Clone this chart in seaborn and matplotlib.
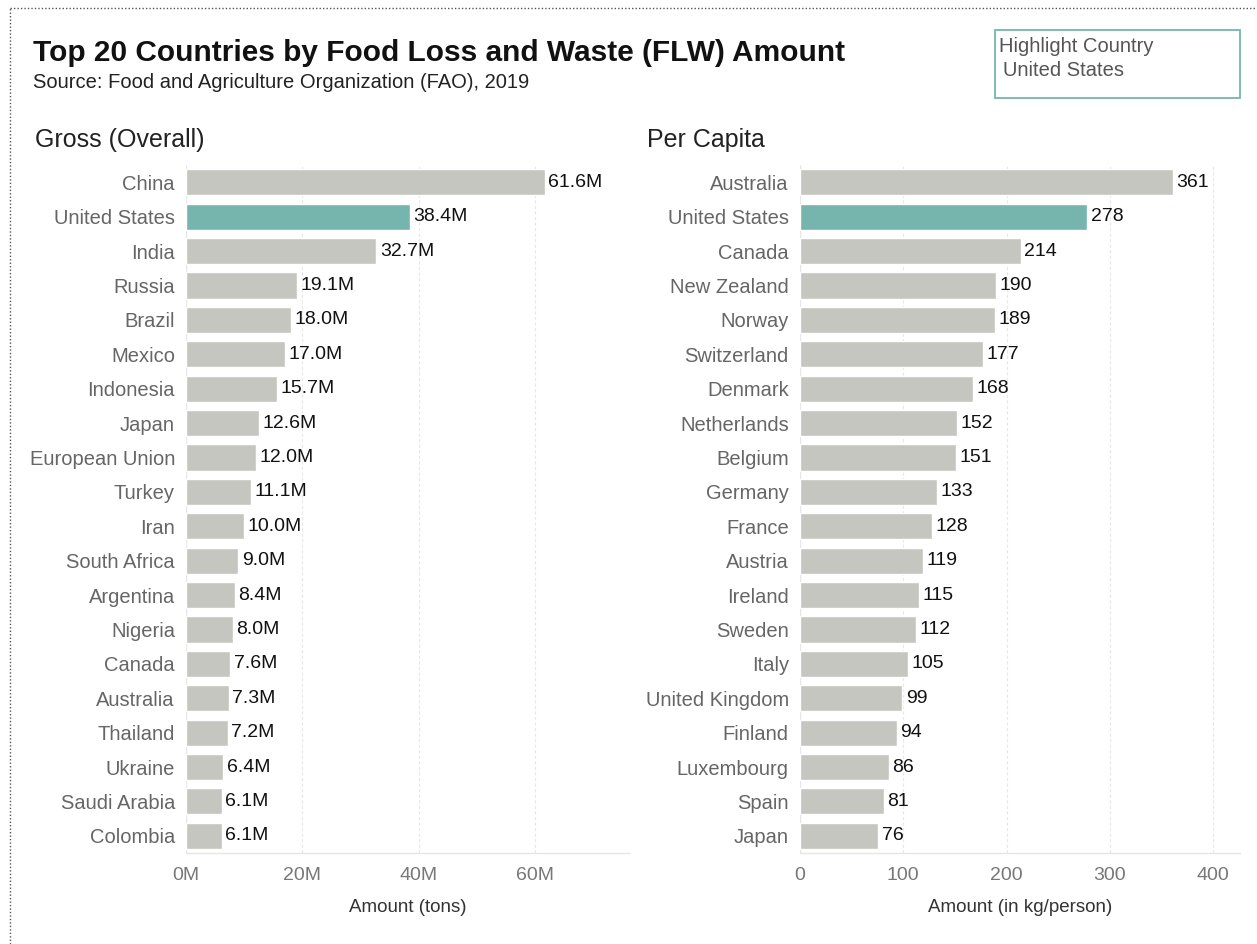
import matplotlib
matplotlib.use("Agg")
import matplotlib.pyplot as plt
from matplotlib.lines import Line2D
from matplotlib.patches import Rectangle
import seaborn as sns
import pandas as pd

gross_countries = ["China", "United States", "India", "Russia", "Brazil", "Mexico",
                   "Indonesia", "Japan", "European Union", "Turkey", "Iran", "South Africa",
                   "Argentina", "Nigeria", "Canada", "Australia", "Thailand", "Ukraine",
                   "Saudi Arabia", "Colombia"]
gross_values = [61.6, 38.4, 32.7, 19.1, 18.0, 17.0, 15.7, 12.6, 12.0, 11.1, 10.0, 9.0,
                8.4, 8.0, 7.6, 7.3, 7.2, 6.4, 6.1, 6.1]

pc_countries = ["Australia", "United States", "Canada", "New Zealand", "Norway",
                "Switzerland", "Denmark", "Netherlands", "Belgium", "Germany", "France",
                "Austria", "Ireland", "Sweden", "Italy", "United Kingdom", "Finland",
                "Luxembourg", "Spain", "Japan"]
pc_values = [361, 278, 214, 190, 189, 177, 168, 152, 151, 133, 128, 119, 115, 112, 105,
             99, 94, 86, 81, 76]

gross_ticks = [0, 20, 40, 60]
gross_ticklabels = ["0M", "20M", "40M", "60M"]
pc_ticks = [0, 100, 200, 300, 400]
pc_ticklabels = ["0", "100", "200", "300", "400"]

highlight = "United States"
GREY = "#c6c6c0"
TEAL = "#76b5ae"

sns.set_theme(style="white")
plt.rcParams['font.family'] = ['Liberation Sans', 'DejaVu Sans']

fig = plt.figure(figsize=(12.57, 9.44), dpi=100)
ax1 = fig.add_axes([0.148, 0.0964, 0.352, 0.7286])
ax2 = fig.add_axes([0.6364, 0.0964, 0.350, 0.7286])


def draw(ax, countries, values, xmax, ticks, ticklabels, xlabel, fmt, title, tx):
    df = pd.DataFrame({"country": countries, "value": values})
    df["hl"] = ["hl" if c == highlight else "base" for c in countries]
    sns.barplot(data=df, y="country", x="value", hue="hl", dodge=False,
                palette={"hl": TEAL, "base": GREY}, width=0.76, ax=ax,
                legend=False, saturation=1)
    ax.set_xlim(0, xmax)
    ax.set_ylim(len(countries) - 0.5, -0.5)
    ax.set_xticks(ticks)
    ax.set_xticklabels(ticklabels, fontsize=14, color="#777777")
    ax.tick_params(axis="y", labelsize=14.5, labelcolor="#666666", length=0, pad=8)
    ax.tick_params(axis="x", length=0, pad=10)
    ax.set_ylabel("")
    ax.set_xlabel(xlabel, fontsize=13.5, color="#333333", labelpad=11)
    for s in ["top", "right", "left"]:
        ax.spines[s].set_visible(False)
    ax.spines["bottom"].set_color("#e6e6e6")
    ax.spines["bottom"].set_linewidth(1)
    ax.grid(axis="x", color="#e8e8e8", linestyle=(0, (3, 2)), linewidth=0.8)
    ax.set_axisbelow(True)
    ax.axvline(0, color="#e6e6e6", lw=1, zorder=0)
    for i, v in enumerate(values):
        ax.text(v + xmax * 0.008, i, fmt(v), va="center", ha="left",
                fontsize=14, color="#111111")
    ax.set_title(title, loc="left", fontsize=18, color="#222222", x=tx, pad=13)


draw(ax1, gross_countries, gross_values, 76, gross_ticks, gross_ticklabels,
     "Amount (tons)", lambda v: f"{v:.1f}M", "Gross (Overall)", -0.342)
draw(ax2, pc_countries, pc_values, 426, pc_ticks, pc_ticklabels,
     "Amount (in kg/person)", lambda v: f"{v:d}", "Per Capita", -0.348)

fig.text(33 / 1257, 1 - 53 / 944, "Top 20 Countries by Food Loss and Waste (FLW) Amount",
         fontsize=21.5, fontweight="bold", color="#111111", va="center", ha="left")
fig.text(33 / 1257, 1 - 82 / 944, "Source: Food and Agriculture Organization (FAO), 2019",
         fontsize=14.5, color="#222222", va="center", ha="left")

# highlight legend box
fig.add_artist(Rectangle((995 / 1257, 1 - 98 / 944), 245 / 1257, 68 / 944,
                         transform=fig.transFigure, fill=False, edgecolor=TEAL, lw=1.3))
fig.text(999 / 1257, 1 - 47 / 944, "Highlight Country", fontsize=14.5, color="#555555",
         va="center", ha="left")
fig.text(1003 / 1257, 1 - 70 / 944, "United States", fontsize=14.5, color="#555555",
         va="center", ha="left")

# dotted frame (left & top)
fig.add_artist(Line2D([10 / 1257, 10 / 1257], [0, 1 - 8 / 944], transform=fig.transFigure,
                      color="#555555", lw=1, linestyle=(0, (1, 1.5))))
fig.add_artist(Line2D([10 / 1257, 1], [1 - 8 / 944, 1 - 8 / 944], transform=fig.transFigure,
                      color="#555555", lw=1, linestyle=(0, (1, 1.5))))

fig.savefig("out.png", dpi=100)
